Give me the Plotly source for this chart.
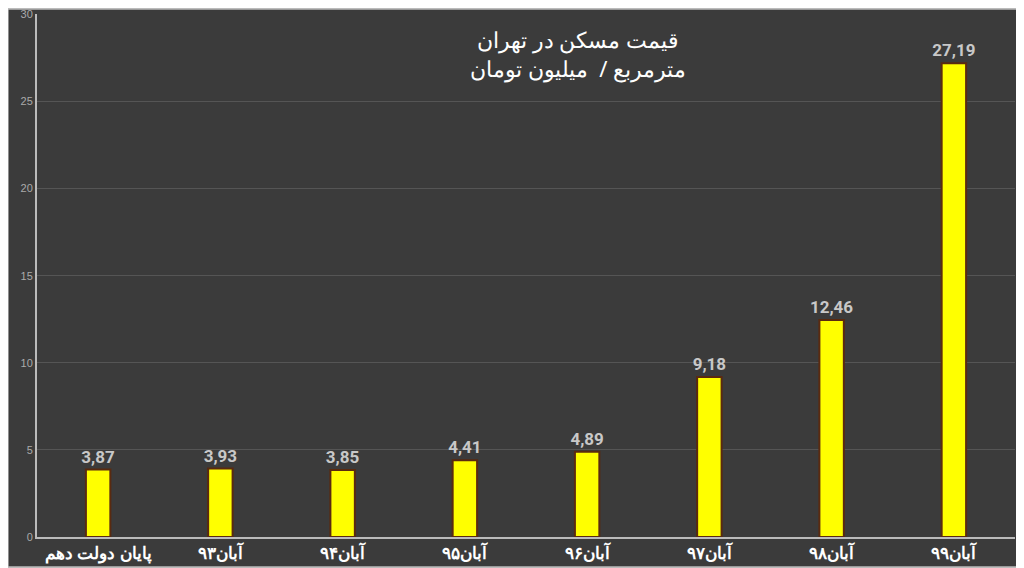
import plotly.graph_objects as go

categories = ["پایان دولت دهم", "آبان۹۳", "آبان۹۴", "آبان۹۵", "آبان۹۶", "آبان۹۷", "آبان۹۸", "آبان۹۹"]
values = [3.87, 3.93, 3.85, 4.41, 4.89, 9.18, 12.46, 27.19]
labels = ["3,87", "3,93", "3,85", "4,41", "4,89", "9,18", "12,46", "27,19"]
y_ticks = [0, 5, 10, 15, 20, 25, 30]

fig = go.Figure(go.Bar(
    x=categories, y=values, text=labels, textposition="outside", constraintext="none",
    textfont=dict(family="Roboto", size=17, color="#c8c8c8", weight="bold"),
    marker=dict(color="#ffff00", line=dict(color="#5a2a10", width=2)),
    width=0.2, cliponaxis=False,
))
fig.update_layout(
    width=1016, height=560, paper_bgcolor="#3b3b3b", plot_bgcolor="#3b3b3b",
    margin=dict(l=29, r=9, t=6, b=31), showlegend=False,
    annotations=[dict(text="قیمت مسکن در تهران<br>مترمربع /  میلیون تومان", x=0.553, y=0.985,
                      xref="paper", yref="paper", xanchor="center", yanchor="top", showarrow=False,
                      font=dict(family="Noto Sans", size=22, color="#ffffff"), align="center")],
    shapes=[dict(type="rect", xref="paper", yref="paper", x0=-0.03, x1=1.008, y0=-0.058, y1=1.01,
                 line=dict(color="#bbbbbb", width=2))],
)
fig.update_xaxes(showline=True, linecolor="#bbbbbb", linewidth=2, showgrid=False, ticks="", automargin=False,
                 tickfont=dict(family="Noto Sans", size=17, color="#ffffff", weight="bold"))
fig.update_yaxes(range=[0, 30.02], tickmode="array", tickvals=y_ticks, showline=True, linecolor="#bbbbbb",
                 linewidth=2, automargin=False, ticklabeloverflow="allow",
                 gridcolor="#555555", tickfont=dict(family="Liberation Sans", size=11, color="#aaaaaa"),
                 zeroline=False)
fig.write_html("out.html")
